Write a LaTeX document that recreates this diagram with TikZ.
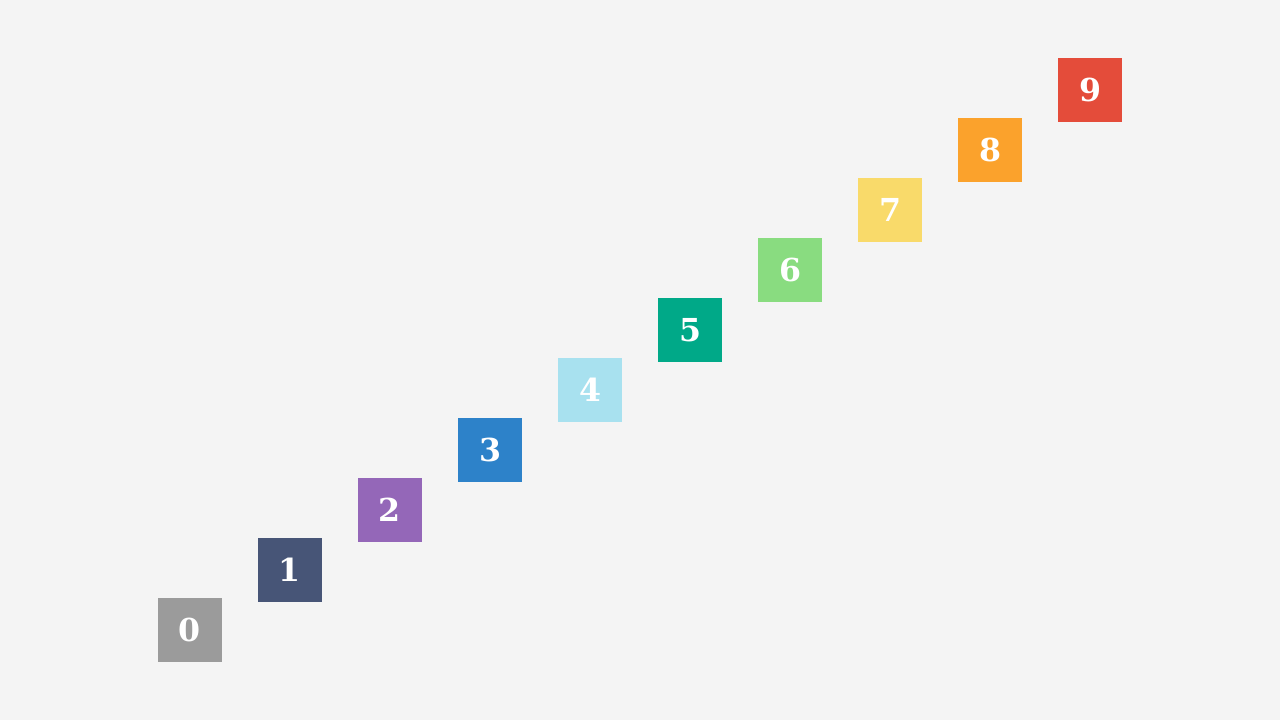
\documentclass[tikz,border=0pt]{standalone}
\usepackage{fontspec}
\setmainfont{DejaVu Serif}
\usepackage{xcolor}
\usepackage{tikz}
\usetikzlibrary{positioning}
\definecolor{canvas}{RGB}{244,244,244}
\definecolor{c0}{RGB}{155,155,155}
\definecolor{c1}{RGB}{71,85,119}
\definecolor{c2}{RGB}{148,103,184}
\definecolor{c3}{RGB}{45,130,201}
\definecolor{c4}{RGB}{168,225,239}
\definecolor{c5}{RGB}{0,169,136}
\definecolor{c6}{RGB}{137,220,128}
\definecolor{c7}{RGB}{249,218,106}
\definecolor{c8}{RGB}{251,162,44}
\definecolor{c9}{RGB}{228,76,58}

\begin{document}
\begin{tikzpicture}[
    font=\fontsize{18}{20}\selectfont\bfseries,
    tile/.style={minimum width=1.28cm,minimum height=1.28cm,inner sep=0pt,
        text=white}
]
\fill[canvas] (0,0) rectangle (25.6,14.4);
\useasboundingbox (0,0) rectangle (25.6,14.4);
\foreach \i in {0,...,9}
    \node[tile,fill=c\i] (sq\i) at ({3.8+2*\i},{1.8+1.2*\i}) {\i};
\end{tikzpicture}
\end{document}
